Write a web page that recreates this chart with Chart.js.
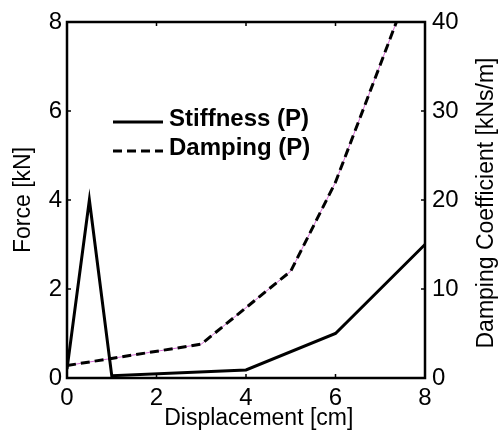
<!DOCTYPE html>
<html>
<head>
<meta charset="utf-8">
<script src="https://cdn.jsdelivr.net/npm/chart.js@4.4.1/dist/chart.umd.min.js"></script>
<style>
  html, body { margin: 0; padding: 0; background: #fff; }
  #wrap { width: 498px; height: 432px; }
</style>
</head>
<body>
<div id="wrap"><canvas id="chart" width="498" height="432"></canvas></div>
<script>
// displacement [cm] vs force [kN] (stiffness, left axis)
const stiffX = [0, 0.5, 1, 4, 6, 8];
const stiffY = [0.2, 4.0, 0.05, 0.18, 1.0, 3.0];
// displacement [cm] vs damping coefficient [kNs/m] (right axis)
const dampX = [0, 3, 5, 6, 7, 8];
const dampY = [1.4, 3.8, 12.0, 22.0, 35.2, 48.5];

const xTicks = [0, 2, 4, 6, 8];
const forceTicks = [0, 2, 4, 6, 8];
const dampTicks = [0, 10, 20, 30, 40];

const rightTitle = "Damping Coefficient [kNs/m]";

const FONT = "Arial, 'Liberation Sans', sans-serif";

function pts(xs, ys) {
  return xs.map((x, i) => ({ x, y: ys[i] }));
}

// box around the plot + small inward tick marks
const frame = {
  id: "frame",
  afterDatasetsDraw(chart) {
    const { ctx, chartArea: a, scales } = chart;
    const len = 4;
    ctx.save();
    ctx.strokeStyle = "#000";
    ctx.lineWidth = 1.5;
    xTicks.slice(1, -1).forEach((v) => {
      const px = scales.x.getPixelForValue(v);
      ctx.beginPath();
      ctx.moveTo(px, a.bottom); ctx.lineTo(px, a.bottom - len);
      ctx.moveTo(px, a.top); ctx.lineTo(px, a.top + len);
      ctx.stroke();
    });
    forceTicks.slice(1, -1).forEach((v) => {
      const py = scales.y.getPixelForValue(v);
      ctx.beginPath();
      ctx.moveTo(a.left, py); ctx.lineTo(a.left + len, py);
      ctx.stroke();
    });
    dampTicks.slice(1, -1).forEach((v) => {
      const py = scales.y1.getPixelForValue(v);
      ctx.beginPath();
      ctx.moveTo(a.right, py); ctx.lineTo(a.right - len, py);
      ctx.stroke();
    });
    ctx.lineWidth = 2.5;
    ctx.strokeRect(a.left, a.top, a.right - a.left, a.bottom - a.top);
    ctx.restore();
  },
};

// right axis title reads bottom-to-top, like the left one
const rightAxisTitle = {
  id: "rightAxisTitle",
  afterDraw(chart) {
    const { ctx, chartArea: a } = chart;
    ctx.save();
    ctx.translate(487, (a.top + a.bottom) / 2 + 3);
    ctx.rotate(-Math.PI / 2);
    ctx.font = "23px " + FONT;
    ctx.fillStyle = "#000";
    ctx.textAlign = "center";
    ctx.textBaseline = "middle";
    ctx.fillText(rightTitle, 0, 0);
    ctx.restore();
  },
};

// legend drawn inside the plot, upper left
const innerLegend = {
  id: "innerLegend",
  afterDraw(chart) {
    const { ctx } = chart;
    const items = chart.data.datasets.filter((d) => d.label);
    ctx.save();
    ctx.font = "bold 24px " + FONT;
    ctx.textBaseline = "alphabetic";
    items.forEach((d, i) => {
      const y = 122 + i * 29;
      ctx.strokeStyle = d.borderColor;
      ctx.lineWidth = d.borderWidth;
      ctx.setLineDash(d.borderDash || []);
      ctx.beginPath();
      ctx.moveTo(113, y);
      ctx.lineTo(163, y);
      ctx.stroke();
      ctx.setLineDash([]);
      ctx.fillStyle = "#000";
      ctx.fillText(d.label, 169, y + 3.5);
    });
    ctx.restore();
  },
};

new Chart(document.getElementById("chart"), {
  type: "line",
  data: {
    datasets: [
      {
        label: "Stiffness (P)",
        data: pts(stiffX, stiffY),
        yAxisID: "y",
        borderColor: "#000",
        borderWidth: 3,
        borderJoinStyle: "miter",
        pointRadius: 0,
        tension: 0,
      },
      {
        label: "Damping (P)",
        data: pts(dampX, dampY),
        yAxisID: "y1",
        borderColor: "#000",
        borderWidth: 3,
        borderDash: [9, 5],
        pointRadius: 0,
        tension: 0,
      },
      {
        // thin magenta trace showing through the dash gaps
        label: "",
        data: pts(dampX, dampY),
        yAxisID: "y1",
        borderColor: "#d36ad3",
        borderWidth: 1,
        pointRadius: 0,
        tension: 0,
      },
    ],
  },
  options: {
    responsive: false,
    animation: false,
    devicePixelRatio: 1,
    layout: { padding: { top: 22, left: 0, right: 0, bottom: 0 } },
    plugins: {
      legend: { display: false },
      tooltip: { enabled: false },
    },
    scales: {
      x: {
        type: "linear",
        min: 0,
        max: 8,
        afterBuildTicks: (s) => { s.ticks = xTicks.map((v) => ({ value: v })); },
        afterFit: (s) => { s.height = 54; },
        grid: { display: false, drawTicks: false },
        border: { display: false },
        ticks: { color: "#000", padding: 6, font: { family: FONT, size: 24 } },
        title: {
          display: true,
          text: "    Displacement [cm]",
          color: "#000",
          padding: { top: 0, bottom: 2 },
          font: { family: FONT, size: 23, lineHeight: 1 },
        },
      },
      y: {
        position: "left",
        min: 0,
        max: 8,
        afterBuildTicks: (s) => { s.ticks = forceTicks.map((v) => ({ value: v })); },
        afterFit: (s) => { s.width = 67; },
        grid: { display: false, drawTicks: false },
        border: { display: false },
        ticks: { color: "#000", padding: 5, font: { family: FONT, size: 24 } },
        title: {
          display: true,
          text: "Force [kN]",
          color: "#000",
          padding: { top: 12, bottom: 0 },
          font: { family: FONT, size: 23, lineHeight: 1 },
        },
      },
      y1: {
        position: "right",
        min: 0,
        max: 40,
        afterBuildTicks: (s) => { s.ticks = dampTicks.map((v) => ({ value: v })); },
        afterFit: (s) => { s.width = 73; },
        grid: { display: false, drawTicks: false },
        border: { display: false },
        ticks: { color: "#000", padding: 7, font: { family: FONT, size: 24 } },
        title: { display: false },
      },
    },
  },
  plugins: [frame, rightAxisTitle, innerLegend],
});
</script>
</body>
</html>
